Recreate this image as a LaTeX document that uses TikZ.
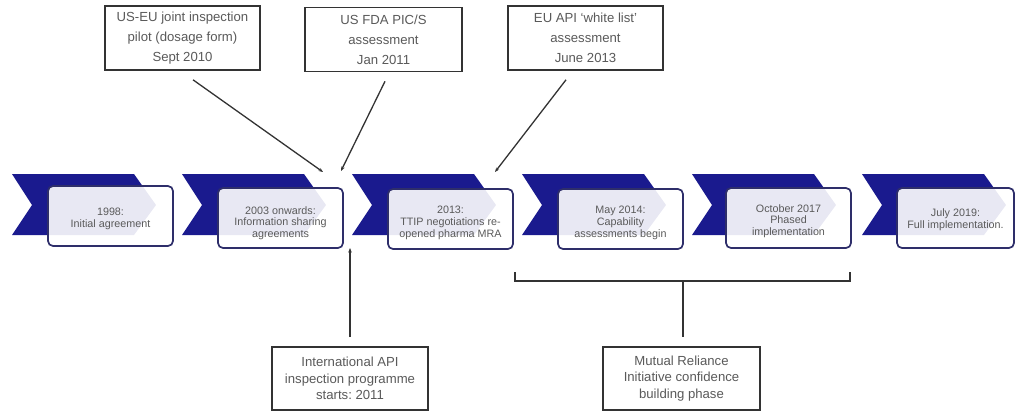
\documentclass[tikz,border=0pt]{standalone}
\usepackage{fontspec}
\setmainfont{Liberation Sans}
\frenchspacing
\usetikzlibrary{arrows.meta}
\definecolor{navy}{HTML}{1A1A8E}
\definecolor{boxedge}{HTML}{2E2E6A}
\definecolor{txtgray}{HTML}{5A5A5A}
\definecolor{linegray}{HTML}{333333}
\tikzset{
  chev/.style={fill=navy},
  cbox/.style={draw=boxedge, line width=1.7bp, rounded corners=5bp, fill=white, fill opacity=0.9,
    minimum width=125bp, minimum height=60bp, inner sep=0pt},
  ctext/.style={inner sep=0pt, align=center, text=txtgray, font=\fontsize{10.8}{11.8}\selectfont},
  tbox/.style={draw=linegray, line width=1.6bp, fill=white, minimum width=156bp, minimum height=64bp,
    inner sep=0pt, align=center, text=txtgray, font=\fontsize{13.2}{20}\selectfont},
  bbox/.style={tbox, font=\fontsize{13.2}{16.5}\selectfont},
  conn/.style={draw=linegray, line width=1.3bp},
  arr/.style={conn, -{Stealth[length=4.5bp,width=3.5bp]}}
}
\begin{document}
\begin{tikzpicture}[x=1bp,y=-1bp]
\useasboundingbox (0,0) rectangle (1017,412);
% chevrons
\foreach \i in {0,...,5}{
  \pgfmathsetmacro\L{12+170*\i}
  \fill[chev] (\L,174) -- (\L+122,174) -- (\L+144,205) -- (\L+122,235) -- (\L,235) -- (\L+20,205) -- cycle;
}
% timeline boxes
\node[cbox] (b1) at (110.5,216) {};
\node[cbox] (b2) at (280.5,218) {};
\node[cbox] (b3) at (450.5,219) {};
\node[cbox] (b4) at (620.5,219) {};
\node[cbox] (b5) at (788.5,218) {};
\node[cbox, minimum width=117bp] (b6) at (955.5,218) {};
\node[ctext] (t1) at ([yshift=-3bp]b1.center) {1998:\\Initial agreement};
\node[ctext] (t2) at ([yshift=-5bp]b2.center) {2003 onwards:\\Information sharing\\agreements};
\node[ctext] (t3) at ([yshift=-4bp]b3.center) {2013:\\TTIP negotiations re-\\opened pharma MRA};
\node[ctext] (t4) at ([yshift=-4bp]b4.center) {May 2014:\\Capability\\assessments begin};
\node[ctext] (t5) at ([yshift=-3bp]b5.center) {October 2017\\Phased\\implementation};
\node[ctext] (t6) at ([yshift=-2bp]b6.center) {July 2019:\\Full implementation.};
% top boxes
\node[tbox, minimum width=155bp] (tA) at (182.5,38) {US-EU joint inspection\\pilot (dosage form)\\Sept 2010};
\node[tbox, minimum width=157bp] (tB) at (383.5,39.5) {US FDA PIC/S\\assessment\\Jan 2011};
\node[tbox, minimum width=155bp] (tC) at (585.5,38) {EU API ‘white list’\\assessment\\June 2013};
% bottom boxes
\node[bbox, minimum width=156bp, minimum height=63bp] (bD) at (350,378.5) {International API\\inspection programme\\starts: 2011};
\node[bbox, minimum width=157bp, minimum height=63bp] (bE) at (681.5,378.5) {Mutual Reliance\\Initiative confidence\\building phase};
% connector ends
\coordinate (pA) at (323,172);
\coordinate (pB) at (341,171);
\coordinate (pC) at (495,172);
\coordinate (pD) at (350,248);
\coordinate (brL) at (515,272);
\coordinate (brR) at (850,272);
\coordinate (brM) at (683,281);
% connectors
\draw[arr] ([xshift=10.5bp,yshift=-9bp]tA.south) -- (pA);
\draw[arr] ([xshift=1.5bp,yshift=-9bp]tB.south) -- (pB);
\draw[arr] ([xshift=-19.5bp,yshift=-9bp]tC.south) -- (pC);
\draw[arr] ([yshift=9bp]bD.north) -- (pD);
\draw[conn] (brL) -- (brL |- brM) -- (brR |- brM) -- (brR);
\draw[conn] (brM) -- ([xshift=1.5bp,yshift=9bp]bE.north);
\end{tikzpicture}
\end{document}
